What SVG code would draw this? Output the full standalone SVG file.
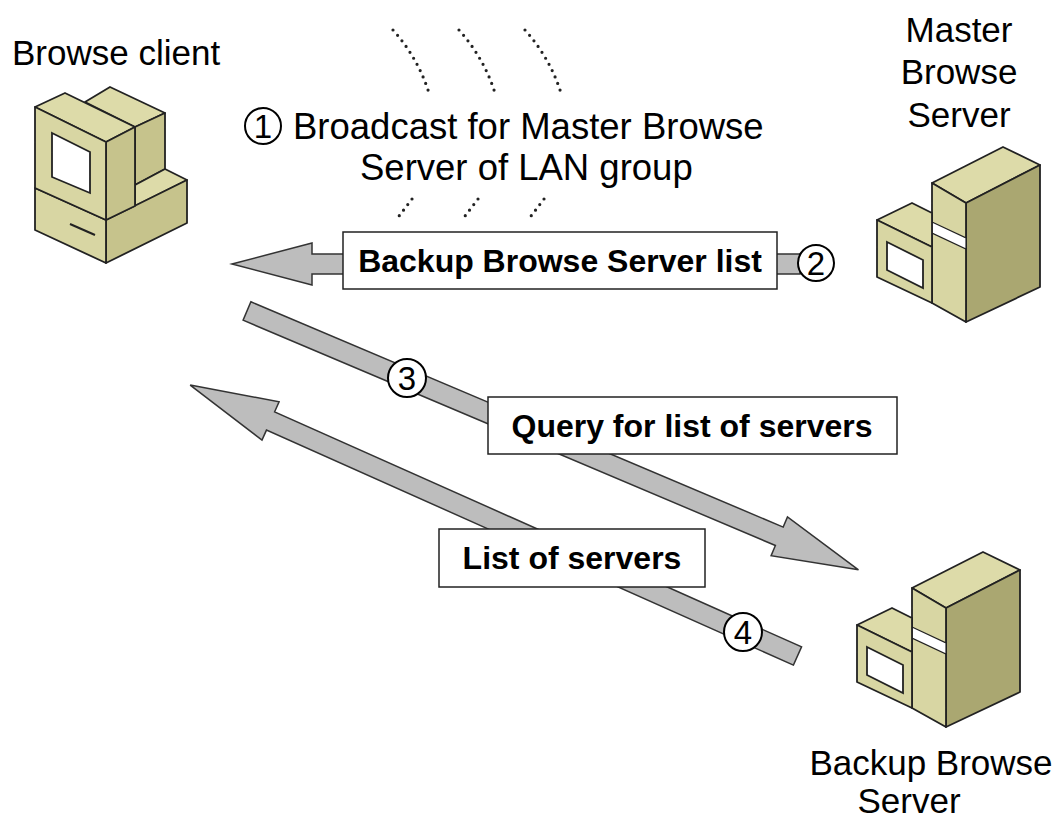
<svg xmlns="http://www.w3.org/2000/svg" xmlns:xlink="http://www.w3.org/1999/xlink" width="1060" height="820" viewBox="0 0 1060 820">
  <style>
    .lbl { font-family: "Liberation Sans", Arial, sans-serif; font-size: 35px; fill: #000; }
    .bc { font-size: 36.5px; }
    .box-text { font-family: "Liberation Sans", Arial, sans-serif; font-size: 32px; font-weight: bold; fill: #000; text-anchor: middle; }
    .num { font-family: "Liberation Sans", Arial, sans-serif; font-size: 33px; fill: #000; text-anchor: middle; }
    .face { stroke: #222; stroke-width: 1.8; stroke-linejoin: round; }
    .light { fill: #d8d6a3; }
    .top { fill: #dddba9; }
    .mid { fill: #c6c38c; }
    .dark { fill: #aaa771; }
    .screen { fill: #ffffff; stroke: #222; stroke-width: 1.8; }
    .arrow { fill: #bdbdbd; stroke: #333; stroke-width: 1.5; stroke-linejoin: miter; }
    .labelbox { fill: #fff; stroke: #222; stroke-width: 1.5; }
    .step { fill: #fff; stroke: #000; stroke-width: 2; }
    .dots { fill: none; stroke: #222; stroke-width: 3.2; stroke-linecap: round; stroke-dasharray: 0 7; }
  </style>
  <defs>
    <!-- isometric server: tall tower with a smaller unit in front -->
    <g id="server-shape">
      <polygon class="face top" points="932,183 1003,147 1040,165 966,203"/>
      <polygon class="face dark" points="966,203 1040,165 1040,287 966,322"/>
      <polygon class="face light" points="932,183 966,203 966,322 932,303"/>
      <polygon fill="#fff" stroke="#222" stroke-width="1.2" points="932,222 966,238 966,249 932,233"/>
      <polygon class="face top" points="877,220 912,203 932,213 932,247"/>
      <polygon class="face light" points="877,220 932,247 932,303 877,277"/>
      <polygon class="screen" points="887,242 923,260 923,288 887,270"/>
    </g>
  </defs>

  <rect width="1060" height="820" fill="#fff"/>

  <!-- broadcast waves -->
  <g id="broadcast">
    <path class="dots" d="M393,30 Q418,58 429,93"/>
    <path class="dots" d="M459,30 Q484,58 495,93"/>
    <path class="dots" d="M525,30 Q550,58 561,93"/>
    <path class="dots" d="M412,199 L396,220"/>
    <path class="dots" d="M478,199 L462,220"/>
    <path class="dots" d="M544,199 L528,220"/>
  </g>

  <!-- connectors -->
  <g id="connectors">
    <!-- 2: master server to client -->
    <polygon class="arrow" points="232,264 312,243 312,254 800,254 800,274 312,274 312,285"/>
    <!-- 3: client to backup server -->
    <polygon class="arrow" transform="translate(247,311) rotate(22.94)" points="0,-10 578,-10 578,-21 664,0 578,21 578,10 0,10"/>
    <!-- 4: backup server to client -->
    <polygon class="arrow" transform="translate(797.5,656) rotate(204.04)" points="0,-10 577,-10 577,-21 665,0 577,21 577,10 0,10"/>
  </g>

  <!-- browse client -->
  <g id="browse-client">
    <polygon class="face top" points="85,102 110,87 165,113 135,127"/>
    <polygon class="face mid" points="135,127 165,113 165,169 135,185"/>
    <polygon class="face top" points="135,185 165,169 187,180 135,206"/>
    <polygon class="face mid" points="106,220 187,180 187,223 106,263"/>
    <polygon class="face light" points="35,188 106,220 106,263 35,230"/>
    <line x1="70" y1="224" x2="95" y2="235" stroke="#222" stroke-width="2"/>
    <polygon class="face top" points="35,107 65,93 135,127 106,142"/>
    <polygon class="face mid" points="106,142 135,127 135,206 106,220"/>
    <polygon class="face light" points="35,107 106,142 106,220 35,188"/>
    <polygon class="screen" points="52,133 90,152 90,193 52,177"/>
    <text class="lbl" x="12" y="65" font-size="35.5">Browse client</text>
  </g>

  <!-- master browse server -->
  <g id="master-browse-server">
    <use xlink:href="#server-shape"/>
    <text class="lbl" text-anchor="middle" x="959" y="42">Master</text>
    <text class="lbl" text-anchor="middle" x="959" y="84">Browse</text>
    <text class="lbl" text-anchor="middle" x="959" y="127">Server</text>
  </g>

  <!-- backup browse server -->
  <g id="backup-browse-server">
    <use xlink:href="#server-shape" transform="translate(-20,405)"/>
    <text class="lbl" text-anchor="middle" x="931" y="775">Backup Browse</text>
    <text class="lbl" text-anchor="middle" x="909" y="813" font-size="34">Server</text>
  </g>

  <!-- step 1: broadcast -->
  <g id="step-1">
    <circle cx="263" cy="126" r="18" fill="none" stroke="#000" stroke-width="2"/>
    <text class="num" x="263" y="138">1</text>
    <text class="lbl bc" x="293" y="139">Broadcast for Master Browse</text>
    <text class="lbl bc" x="360" y="180">Server of LAN group</text>
  </g>

  <!-- message labels -->
  <g id="label-backup-list">
    <rect class="labelbox" x="343" y="232" width="434" height="57"/>
    <text class="box-text" x="560" y="272">Backup Browse Server list</text>
  </g>
  <g id="label-query">
    <rect class="labelbox" x="488" y="397" width="409" height="57"/>
    <text class="box-text" x="692" y="437">Query for list of servers</text>
  </g>
  <g id="label-list">
    <rect class="labelbox" x="439" y="529" width="266" height="58"/>
    <text class="box-text" x="572" y="569">List of servers</text>
  </g>

  <!-- step markers -->
  <g id="step-2">
    <circle class="step" cx="816" cy="263" r="18"/>
    <text class="num" x="816" y="275">2</text>
  </g>
  <g id="step-3">
    <circle class="step" cx="407" cy="378" r="19"/>
    <text class="num" x="407" y="390">3</text>
  </g>
  <g id="step-4">
    <circle class="step" cx="743" cy="632" r="19"/>
    <text class="num" x="743" y="644">4</text>
  </g>
</svg>
